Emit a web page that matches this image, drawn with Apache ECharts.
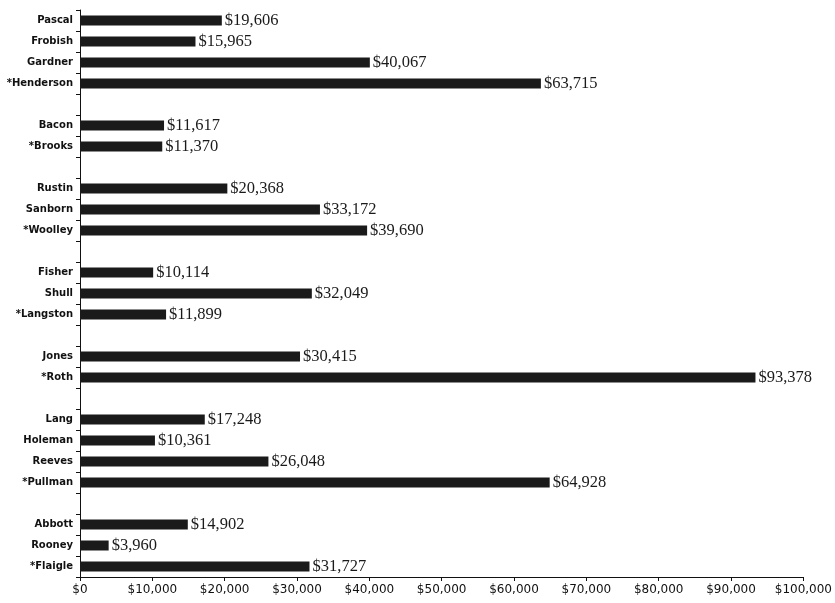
<!DOCTYPE html>
<html><head><meta charset="utf-8">
<script src="https://cdn.jsdelivr.net/npm/echarts@6/dist/echarts.min.js"></script>
<style>html,body{margin:0;padding:0;background:#fff}#c{width:835px;height:603px}</style>
</head><body><div id="c"></div>
<script>
const categories = ['Pascal','Frobish','Gardner','*Henderson','','Bacon','*Brooks','','Rustin','Sanborn','*Woolley','','Fisher','Shull','*Langston','','Jones','*Roth','','Lang','Holeman','Reeves','*Pullman','','Abbott','Rooney','*Flaigle'];
const values = [19606,15965,40067,63715,null,11617,11370,null,20368,33172,39690,null,10114,32049,11899,null,30415,93378,null,17248,10361,26048,64928,null,14902,3960,31727];
const xTicks = {min:0, max:100000, interval:10000};

const chart = echarts.init(document.getElementById('c'));
chart.setOption({
  animation:false,
  grid:{left:80, right:28, top:10, bottom:26, containLabel:false},
  xAxis:{type:'value', min:xTicks.min, max:xTicks.max, interval:xTicks.interval,
    axisLine:{show:true, lineStyle:{color:'#111', width:1}},
    axisTick:{show:true, length:4, lineStyle:{color:'#111'}},
    splitLine:{show:false},
    axisLabel:{color:'#111', fontFamily:'DejaVu Sans', fontSize:12, margin:7,
      formatter:v=>'$'+v.toLocaleString('en-US')}},
  yAxis:{type:'category', data:categories, inverse:true,
    axisLine:{show:true, lineStyle:{color:'#111', width:1}},
    axisTick:{show:true, length:4, alignWithLabel:false, lineStyle:{color:'#111'}},
    axisLabel:{color:'#111', fontFamily:'DejaVu Sans', fontWeight:'bold', fontSize:10, margin:7},
    splitLine:{show:false}},
  series:[{type:'bar', data:values, barWidth:10,
    itemStyle:{color:'#1a1a1a'},
    label:{show:true, position:'right', distance:3, color:'#1a1a1a',
      fontFamily:'Liberation Serif, Times New Roman, serif', fontSize:16.5,
      formatter:p=>p.value==null?'':'$'+p.value.toLocaleString('en-US')}}]
});
</script></body></html>
